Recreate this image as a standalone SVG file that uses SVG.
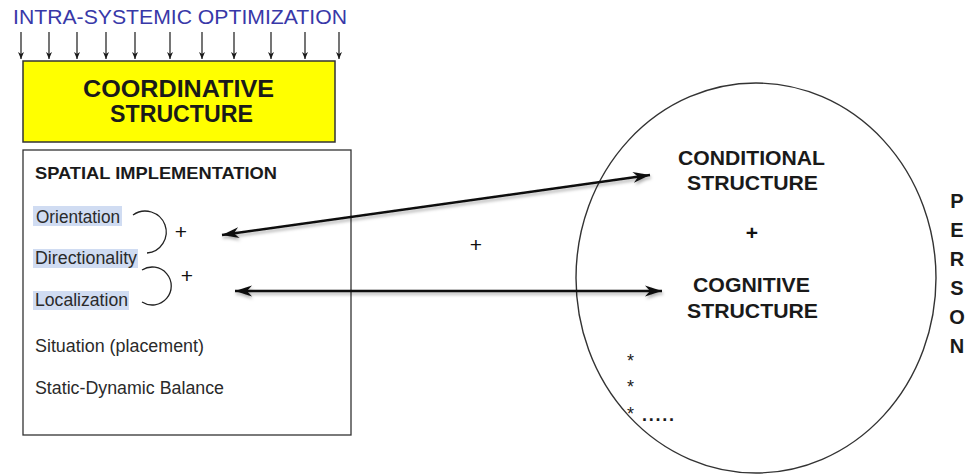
<svg xmlns="http://www.w3.org/2000/svg" width="971" height="475" viewBox="0 0 971 475">
<style>
text{font-family:"Liberation Sans",Arial,sans-serif;}
.title{font-size:21px;fill:#3838a8;}
.big{font-size:23.5px;font-weight:bold;fill:#1a1a1a;text-anchor:middle;}
.hd{font-size:17px;font-weight:bold;fill:#1a1a1a;}
.item{font-size:17.5px;fill:#2a2a2a;}
.cs{font-size:21px;font-weight:bold;fill:#1a1a1a;text-anchor:middle;}
.per{font-size:20px;font-weight:bold;fill:#1a1a1a;text-anchor:middle;}
.plus{font-size:21px;fill:#111;text-anchor:middle;}
.hl{fill:#d0dcf2;}
.small{stroke:#1a1a1a;stroke-width:1.2;fill:none;marker-end:url(#sm);}
.big-arrow{stroke:#111;stroke-width:2.5;fill:none;marker-start:url(#ah);marker-end:url(#ah);filter:url(#sh);}
.brk{stroke:#222;stroke-width:1.3;fill:none;}
</style>
<defs>
<marker id="sm" markerUnits="userSpaceOnUse" markerWidth="8" markerHeight="10" refX="7" refY="4" orient="auto" viewBox="0 0 8 8">
<path d="M0,1 L7,4 L0,7 L2,4 z" fill="#1a1a1a"/>
</marker>
<marker id="ah" markerUnits="userSpaceOnUse" markerWidth="18" markerHeight="12" refX="17" refY="6" orient="auto-start-reverse" viewBox="0 0 18 12">
<path d="M0,0.5 L17,6 L0,11.5 L5,6 z" fill="#111"/>
</marker>
<filter id="sh" filterUnits="userSpaceOnUse" x="0" y="0" width="971" height="475">
<feDropShadow dx="1" dy="2.5" stdDeviation="1.6" flood-color="#000" flood-opacity="0.3"/>
</filter>
</defs>
<rect width="971" height="475" fill="#fff"/>

<g id="title">
<text class="title" x="13" y="24" textLength="334" lengthAdjust="spacingAndGlyphs">INTRA-SYSTEMIC OPTIMIZATION</text>
</g>

<g id="coordinative-structure">
<rect x="23" y="61" width="312" height="81" fill="#ffff00" stroke="#333" stroke-width="1.5"/>
<text class="big" x="178.5" y="97" textLength="191" lengthAdjust="spacingAndGlyphs">COORDINATIVE</text>
<text class="big" x="181.5" y="122" textLength="143" lengthAdjust="spacingAndGlyphs">STRUCTURE</text>
</g>

<g id="spatial-implementation">
<rect x="23" y="150" width="328" height="285" fill="#fff" stroke="#333" stroke-width="1.3"/>
<text class="hd" x="35" y="179" textLength="242" lengthAdjust="spacingAndGlyphs">SPATIAL IMPLEMENTATION</text>
<rect class="hl" x="33" y="206" width="89" height="20"/>
<rect class="hl" x="33" y="249" width="105" height="19"/>
<rect class="hl" x="33" y="291" width="96" height="19"/>
<text class="item" x="36" y="223" textLength="84" lengthAdjust="spacingAndGlyphs">Orientation</text>
<text class="item" x="35" y="264" textLength="102" lengthAdjust="spacingAndGlyphs">Directionality</text>
<text class="item" x="35" y="306" textLength="93" lengthAdjust="spacingAndGlyphs">Localization</text>
<text class="item" x="35" y="352" textLength="169" lengthAdjust="spacingAndGlyphs">Situation (placement)</text>
<text class="item" x="35" y="394" textLength="189" lengthAdjust="spacingAndGlyphs">Static-Dynamic Balance</text>
<path class="brk" d="M133,215 A21,21 0 1,1 147,253"/>
<path class="brk" d="M142,270 A19,19 0 1,1 142,302"/>
<text class="plus" x="181" y="239">+</text>
<text class="plus" x="187" y="283">+</text>
</g>

<g id="person">
<ellipse cx="756" cy="278" rx="180" ry="195" fill="none" stroke="#333" stroke-width="1.4"/>
<text class="cs" x="751.5" y="165" textLength="147" lengthAdjust="spacingAndGlyphs">CONDITIONAL</text>
<text class="cs" x="752.5" y="190" textLength="131" lengthAdjust="spacingAndGlyphs">STRUCTURE</text>
<text class="plus" x="752" y="240" font-weight="bold" font-size="18">+</text>
<text class="cs" x="751.5" y="292" textLength="117" lengthAdjust="spacingAndGlyphs">COGNITIVE</text>
<text class="cs" x="752.5" y="318" textLength="131" lengthAdjust="spacingAndGlyphs">STRUCTURE</text>
<text font-size="18" fill="#1a1a1a" x="627" y="367">*</text>
<text font-size="18" fill="#1a1a1a" x="627" y="393">*</text>
<text font-size="18" fill="#1a1a1a" x="627" y="420">*</text>
<text font-size="18" fill="#1a1a1a" x="642" y="421" textLength="32" lengthAdjust="spacing" font-weight="bold">.....</text>
</g>

<g id="person-label">
<text class="per" x="957" y="208">P</text>
<text class="per" x="957" y="237">E</text>
<text class="per" x="957" y="266">R</text>
<text class="per" x="957" y="295">S</text>
<text class="per" x="957" y="324">O</text>
<text class="per" x="957" y="353">N</text>
</g>

<g id="connectors">
<line class="small" x1="21" y1="32" x2="21" y2="59"/>
<line class="small" x1="49" y1="32" x2="49" y2="59"/>
<line class="small" x1="77" y1="32" x2="77" y2="59"/>
<line class="small" x1="106" y1="32" x2="106" y2="59"/>
<line class="small" x1="135" y1="32" x2="135" y2="59"/>
<line class="small" x1="170" y1="32" x2="170" y2="59"/>
<line class="small" x1="202" y1="32" x2="202" y2="59"/>
<line class="small" x1="234" y1="32" x2="234" y2="59"/>
<line class="small" x1="271" y1="32" x2="271" y2="59"/>
<line class="small" x1="305" y1="32" x2="305" y2="59"/>
<line class="small" x1="339" y1="32" x2="339" y2="59"/>
<line class="big-arrow" x1="222" y1="235" x2="650" y2="175"/>
<line class="big-arrow" x1="235" y1="291" x2="662" y2="291"/>
<text class="plus" x="476" y="252">+</text>
</g>
</svg>
